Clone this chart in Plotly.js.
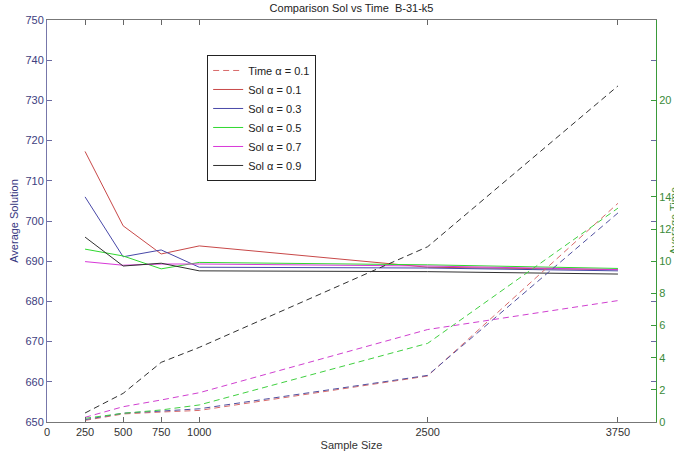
<!DOCTYPE html>
<html>
<head>
<meta charset="utf-8">
<script src="https://cdn.plot.ly/plotly-3.0.1.min.js"></script>
<style>html,body{margin:0;padding:0;background:#fff;}#chart{width:674px;height:453px;}</style>
</head>
<body>
<div id="chart"></div>
<script>
const sampleSizes = [250, 500, 750, 1000, 2500, 3750];
const xTicks = [0, 250, 500, 750, 1000, 2500, 3750];
const timeTicks = [0, 2, 4, 6, 8, 10, 12, 14, 20];

// Average Solution (left axis)
const sol01 = [717.3, 698.8, 691.8, 693.8, 688.5, 687.9];
const sol03 = [706.0, 691.1, 692.8, 688.5, 688.3, 687.6];
const sol05 = [693.0, 691.3, 688.1, 689.7, 689.1, 688.2];
const sol07 = [689.9, 689.0, 689.3, 689.3, 688.8, 687.9];
const sol09 = [696.0, 688.8, 689.5, 687.6, 687.4, 686.8];

// Average Time (right axis)
const time01 = [0.10, 0.50, 0.62, 0.72, 2.86, 13.6];
const time03 = [0.15, 0.55, 0.68, 0.82, 2.90, 13.0];
const time05 = [0.23, 0.54, 0.75, 1.06, 4.89, 13.3];
const time07 = [0.29, 0.95, 1.37, 1.82, 5.75, 7.55];
const time09 = [0.56, 1.78, 3.71, 4.64, 10.9, 20.9];

const cRed = '#c84848', cBlue = '#4848a8', cGreen = '#30d830', cMag = '#d838d8', cBlk = '#303030';

function sol(name, y, c) {
  return {x: sampleSizes, y: y, name: name, mode: 'lines', type: 'scatter',
          line: {color: c, width: 1}, yaxis: 'y'};
}
function tim(name, y, c, show) {
  return {x: sampleSizes, y: y, name: name, mode: 'lines', type: 'scatter',
          line: {color: c, width: 1, dash: '6px,4px'}, yaxis: 'y2', showlegend: show};
}

const data = [
  tim('Time α = 0.1', time01, '#d86a6a', true),
  sol('Sol α = 0.1', sol01, cRed),
  sol('Sol α = 0.3', sol03, cBlue),
  sol('Sol α = 0.5', sol05, cGreen),
  sol('Sol α = 0.7', sol07, cMag),
  sol('Sol α = 0.9', sol09, cBlk),
  tim('Time α = 0.3', time03, '#5050a0', false),
  tim('Time α = 0.5', time05, '#40d040', false),
  tim('Time α = 0.7', time07, '#d040d0', false),
  tim('Time α = 0.9', time09, '#303030', false)
];

const layout = {
  width: 674, height: 453,
  margin: {l: 47, r: 18, t: 20, b: 31},
  paper_bgcolor: '#ffffff', plot_bgcolor: '#ffffff',
  font: {family: 'Liberation Sans, Arial, sans-serif', size: 11, color: '#333'},
  title: {text: 'Comparison Sol vs Time  B-31-k5', font: {size: 11, color: '#222'},
          x: 0.5, xref: 'paper', y: 0.982, yref: 'container', yanchor: 'middle'},
  showlegend: true,
  legend: {x: 0.263, y: 0.913, xanchor: 'left', yanchor: 'top',
           bgcolor: '#ffffff', bordercolor: '#222', borderwidth: 1,
           font: {size: 11, color: '#222'}, tracegroupgap: 0},
  xaxis: {range: [0, 4000], tickvals: xTicks, ticktext: xTicks.map(String),
          ticks: 'inside', ticklen: 5, tickcolor: '#666', mirror: 'ticks',
          showline: true, linecolor: '#777', linewidth: 1, showgrid: false, zeroline: false,
          tickfont: {size: 11, color: '#333'},
          title: {text: 'Sample Size', font: {size: 11, color: '#333'}, standoff: 4}},
  yaxis: {range: [650, 750], dtick: 10, tick0: 650,
          ticks: 'inside', ticklen: 5, tickcolor: '#6a6aa0', mirror: 'ticks',
          showline: true, linecolor: '#7777aa', linewidth: 1, showgrid: false, zeroline: false,
          tickfont: {size: 11, color: '#404080'},
          title: {text: 'Average Solution', font: {size: 11, color: '#353580'}, standoff: 4}},
  yaxis2: {range: [0, 25], tickvals: timeTicks, overlaying: 'y', side: 'right', anchor: 'x',
           ticks: 'inside', ticklen: 5, tickcolor: '#3a9a3a',
           showline: true, linecolor: '#3a9a3a', linewidth: 1, showgrid: false, zeroline: false,
           tickfont: {size: 11, color: '#3a8a3a'}},
  annotations: [{text: 'Average Time', xref: 'paper', yref: 'paper', x: 1.029, y: 0.5,
                 xanchor: 'center', yanchor: 'middle', textangle: -90, showarrow: false,
                 font: {size: 11, color: '#3a8a3a'}}]
};

Plotly.newPlot('chart', data, layout, {displayModeBar: false, staticPlot: true});
</script>
</body>
</html>
